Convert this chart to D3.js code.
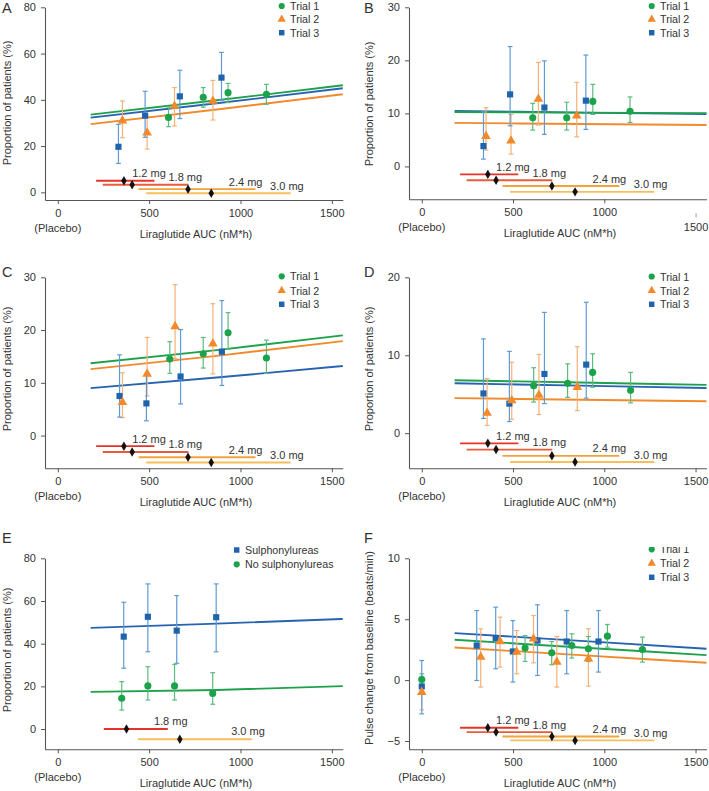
<!DOCTYPE html>
<html><head><meta charset="utf-8">
<script src="https://cdn.jsdelivr.net/npm/d3@7"></script>
<style>
body{margin:0;background:#fff}
text{font-family:"Liberation Sans",Arial,Helvetica,sans-serif;fill:#333}
</style>
</head><body>
<svg id="c" width="709" height="791"></svg>
<script>
// ---------- shared ----------
const xTicks = [0, 500, 1000, 1500];
const fitX = [180, 870, 1560];
const doseLabels = ["1.2 mg", "1.8 mg", "2.4 mg", "3.0 mg"];
const doseLo = [210, 246, 442, 484];
const doseHi = [529, 715, 1082, 1274];
const doseMed = [362, 407, 713, 840];
const doseLabelX = [407, 606, 936, 1162];
const eDoseLabels = ["1.8 mg", "3.0 mg"];
const eDoseLo = [252, 438];
const eDoseHi = [602, 1062];
const eDoseMed = [376, 668];
const eDoseLabelX = [526, 949];
const trialNames = ["Trial 1", "Trial 2", "Trial 3"];
const eNames = ["Sulphonylureas", "No sulphonylureas"];

// each point: [AUC, value, lower, upper]
// ---------- Panel A ----------
const aTrial1 = [[606,32.4,28.4,36.9],[796,41.1,36.8,45.3],[932,43.1,38.8,47.1],[1142,42.4,38.1,46.7]];
const aTrial2 = [[354,31.0,23.6,39.5],[489,25.8,18.7,33.0],[639,37.3,28.7,45.3],[849,39.5,31.3,48.4]];
const aTrial3 = [[332,19.7,12.5,29.4],[478,33.2,23.8,43.7],[668,41.5,31.9,52.8],[896,49.6,39.9,60.5]];
const aFit1 = [33.6, 39.8, 46.3];
const aFit2 = [29.5, 35.8, 42.4];
const aFit3 = [32.3, 38.5, 45.0];
const aDoseY = [5.0, 3.3, 1.4, -0.4];
const aYTicks = [0, 20, 40, 60, 80];

// ---------- Panel B ----------
const bTrial1 = [[608,9.17,6.85,11.9],[794,9.17,6.85,12.1],[937,12.26,9.8,15.47],[1141,10.4,8.3,13.1]];
const bTrial2 = [[352,5.7,3.08,11.06],[489,4.83,2.32,9.8],[639,12.7,7.8,19.6],[849,9.55,5.59,15.85]];
const bTrial3 = [[338,3.83,1.38,10.3],[484,13.58,7.66,22.6],[672,11.1,6.04,19.9],[899,12.4,6.98,21.0]];
const bFit1 = [10.25, 10.15, 10.05];
const bFit2 = [8.2, 8.0, 7.8];
const bFit3 = [10.45, 10.15, 9.85];
const bDoseY = [-1.5, -2.6, -3.7, -4.8];
const bYTicks = [0, 10, 20, 30];

// ---------- Panel C ----------
const cTrial1 = [[613,14.5,11.8,17.8],[796,15.5,12.8,18.6],[932,19.5,16.4,23.3],[1142,14.7,11.8,18.1]];
const cTrial2 = [[354,6.3,3.4,11.9],[489,11.7,7.5,18.6],[642,20.7,14.6,28.6],[849,17.4,11.7,25.0]];
const cTrial3 = [[338,7.5,3.5,15.3],[485,6.1,2.8,11.7],[672,11.2,6.0,20.1],[898,15.9,9.5,25.6]];
const cFit1 = [13.7, 16.2, 19.0];
const cFit2 = [12.6, 15.1, 17.9];
const cFit3 = [9.0, 11.0, 13.2];
const cDoseY = [-2.0, -3.1, -4.1, -5.1];
const cYTicks = [0, 10, 20, 30];

// ---------- Panel D ----------
const dTrial1 = [[613,6.1,4.0,8.4],[799,6.4,4.6,8.9],[936,7.8,5.9,10.2],[1144,5.5,3.9,7.8]];
const dTrial2 = [[358,2.6,1.0,7.0],[493,4.2,1.8,9.1],[642,4.9,2.4,10.1],[852,5.9,2.9,11.1]];
const dTrial3 = [[338,5.1,1.9,12.1],[480,3.8,1.5,10.5],[672,7.6,3.8,15.5],[901,8.8,4.5,16.8]];
const dFit1 = [6.8, 6.5, 6.2];
const dFit2 = [4.5, 4.3, 4.1];
const dFit3 = [6.4, 6.1, 5.8];
const dDoseY = [-1.3, -2.1, -2.9, -3.7];
const dYTicks = [0, 10, 20];

// ---------- Panel E ----------
const eSulph = [[361,43.3,28.5,59.4],[493,52.6,36.2,68.0],[651,46.1,30.8,62.5],[867,52.4,36.2,68.0]];
const eNoSulph = [[350,14.4,8.9,22.2],[493,20.2,13.6,29.2],[639,20.2,13.6,30.3],[848,16.7,11.6,26.4]];
const eFitSulph = [47.4, 49.4, 51.6];
const eFitNo = [17.4, 18.3, 20.1];
const eDoseY = [0, -4.8];
const eYTicks = [0, 20, 40, 60, 80];

// ---------- Panel F ----------
const fTrial1 = [[0,0.05,-0.45,0.52],[566,2.63,1.53,3.66],[712,2.24,1.26,3.17],[822,2.84,1.81,3.80],[913,2.57,1.53,3.58],[1017,3.61,2.71,4.57],[1209,2.51,1.48,3.53]];
const fTrial2 = [[0,-0.99,-2.44,0.3],[323,1.89,-0.57,4.21],[429,3.17,1.07,5.17],[520,2.30,0.52,4.07],[612,3.39,1.42,5.30],[740,1.48,-0.57,3.58],[913,1.75,-0.49,4.21]];
const fTrial3 = [[0,-0.52,-2.77,1.61],[301,2.84,-0.03,5.71],[405,3.45,0.93,5.99],[499,2.35,-0.16,4.89],[634,3.25,0.38,6.18],[794,3.17,0.52,5.71],[968,3.17,0.66,5.71]];
const fFit1 = [3.31, 2.68, 2.05];
const fFit2 = [2.68, 2.05, 1.42];
const fFit3 = [3.86, 3.22, 2.57];
const fDoseY = [-3.91, -4.27, -4.63, -4.95];
const fYTicks = [-5, 0, 5, 10];

// ---------- styling ----------
const COL = {
  green: "#1ba24b", orange: "#f3892a", blue: "#1f63ad",
  greenE: "#5cba7f", orangeE: "#f5b176", blueE: "#5e9bd4",
  greenL: "#1fa14c", orangeL: "#f08a2c", blueL: "#2863b0"
};
const doseColors = ["#e5332a", "#e95b3d", "#f0a23c", "#f6bf5c"];
const SYM = {
  circle: d3.symbol().type(d3.symbolCircle).size(40)(),
  square: d3.symbol().type(d3.symbolSquare).size(38)(),
  triangle: d3.symbol().type(d3.symbolTriangle).size(40)(),
  diamond: d3.symbol().type(d3.symbolDiamond).size(26)()
};

const svg = d3.select("#c");

function drawPanel(p) {
  const x = d3.scaleLinear().domain([-70, 1560]).range(p.xr);
  const y = d3.scaleLinear().domain(p.yd).range(p.yr);
  const g = svg.append("g");

  // axes
  const ya = g.append("g").attr("transform", `translate(${p.xr[0]},0)`)
    .call(d3.axisLeft(y).tickValues(p.yt).tickSize(4).tickPadding(5).tickSizeOuter(0).tickFormat(d3.format("d")));
  const xa = g.append("g").attr("transform", `translate(0,${p.yr[0]})`)
    .call(d3.axisBottom(x).tickValues(xTicks).tickSize(4).tickPadding(5).tickSizeOuter(0).tickFormat(d3.format("d")));
  [ya, xa].forEach(a => {
    a.select(".domain").attr("stroke", "#555").attr("stroke-width", 1.1);
    a.selectAll(".tick line").attr("stroke", "#555");
    a.selectAll(".tick text").attr("font-size", 11).attr("fill", "#333")
      .attr("font-family", '"Liberation Sans",Arial,sans-serif');
  });
  if (p.odd1500) {
    const t = xa.selectAll(".tick").filter(d => d === 1500);
    t.select("line").attr("y1", 14).attr("y2", 18).attr("stroke", "#999");
    t.select("text").attr("y", 24);
  }

  g.append("text").attr("x", x(0)).attr("y", p.yr[0] + 32).attr("text-anchor", "middle")
    .attr("font-size", 11).text("(Placebo)");
  g.append("text").attr("x", p.xr[0] + 151).attr("y", p.yr[0] + 37.5).attr("text-anchor", "middle")
    .attr("font-size", 11).text("Liraglutide AUC (nM*h)");
  g.append("text").attr("transform", `translate(${p.ytx},${p.yty}) rotate(-90)`)
    .attr("text-anchor", "middle").attr("font-size", 11).text(p.ytitle);
  g.append("text").attr("x", p.letter[0]).attr("y", p.letter[1]).attr("font-size", 14.5)
    .attr("fill", "#222").text(p.name);

  // fitted curves
  const line = d3.line().x(d => x(d[0])).y(d => y(d[1])).curve(d3.curveMonotoneX);
  p.fits.forEach(f => {
    g.append("path").datum(d3.zip(fitX, f.v)).attr("d", line)
      .attr("fill", "none").attr("stroke", f.c).attr("stroke-width", 1.9);
  });

  // dose bars
  p.dose.y.forEach((dy, i) => {
    const yy = y(dy);
    g.append("line").attr("x1", x(p.dose.lo[i])).attr("x2", x(p.dose.hi[i]))
      .attr("y1", yy).attr("y2", yy).attr("stroke", p.dose.col[i]).attr("stroke-width", 1.9);
  });
  p.dose.y.forEach((dy, i) => {
    const yy = y(dy);
    g.append("path").attr("d", SYM.diamond).attr("transform", `translate(${x(p.dose.med[i])},${yy})`)
      .attr("fill", "#111");
    g.append("text").attr("x", x(p.dose.lx[i])).attr("y", yy - p.dose.off)
      .attr("font-size", 11).text(p.dose.lab[i]);
  });

  // error bars
  p.series.forEach(s => {
    const eg = g.append("g").attr("stroke", s.ec).attr("stroke-width", 1.2);
    s.d.forEach(d => {
      const cx = x(d[0]);
      eg.append("line").attr("x1", cx).attr("x2", cx).attr("y1", y(d[2])).attr("y2", y(d[3]));
      [d[2], d[3]].forEach(v => eg.append("line").attr("x1", cx - 2.4).attr("x2", cx + 2.4)
        .attr("y1", y(v)).attr("y2", y(v)));
    });
  });
  // markers
  p.markerOrder.forEach(k => {
    const s = p.series[k];
    s.d.forEach(d => {
      g.append("path").attr("d", SYM[s.sym])
        .attr("transform", `translate(${x(d[0])},${y(d[1])})`).attr("fill", s.c);
    });
  });

  // legend
  const lg = g.append("g");
  if (p.legClip) {
    const id = "clip" + p.name;
    svg.append("clipPath").attr("id", id).append("rect")
      .attr("x", 0).attr("y", p.legClip).attr("width", 709).attr("height", 100);
    lg.attr("clip-path", `url(#${id})`);
  }
  p.legend.forEach((L, i) => {
    const yy = p.leg.y[i];
    lg.append("path").attr("d", d3.symbol().type(L.sym === "circle" ? d3.symbolCircle : L.sym === "square" ? d3.symbolSquare : d3.symbolTriangle).size(30)())
      .attr("transform", `translate(${p.leg.mx},${yy})`).attr("fill", L.c);
    lg.append("text").attr("x", p.leg.tx).attr("y", yy + 4).attr("font-size", 10.7).text(L.t);
  });
}

function trialSeries(t1, t2, t3) {
  return [
    {d: t2, c: COL.orange, ec: COL.orangeE, sym: "triangle"},
    {d: t1, c: COL.green, ec: COL.greenE, sym: "circle"},
    {d: t3, c: COL.blue, ec: COL.blueE, sym: "square"}
  ];
}
function trialFits(f1, f2, f3) {
  return [{v: f3, c: COL.blueL}, {v: f2, c: COL.orangeL}, {v: f1, c: COL.greenL}];
}
const trialLegend = [
  {t: trialNames[0], c: COL.green, sym: "circle"},
  {t: trialNames[1], c: COL.orange, sym: "triangle"},
  {t: trialNames[2], c: COL.blue, sym: "square"}
];
const stdDose = ys => ({y: ys, lo: doseLo, hi: doseHi, med: doseMed, lx: doseLabelX, lab: doseLabels, col: doseColors, off: 3.5});
const yTitleP = "Proportion of patients (%)";

drawPanel({name: "A", xr: [45, 342.8], yr: [200, 7.3], yd: [-3.3, 80], yt: aYTicks,
  ytitle: yTitleP, ytx: 10.5, yty: 103, letter: [2, 13],
  fits: trialFits(aFit1, aFit2, aFit3), series: trialSeries(aTrial1, aTrial2, aTrial3), markerOrder: [2, 1, 0],
  dose: stdDose(aDoseY), legend: trialLegend, leg: {mx: 281.7, tx: 290, y: [6, 19.3, 32.7]}});

drawPanel({name: "B", xr: [409, 706.5], yr: [199.3, 7.3], yd: [-6.2, 30], yt: bYTicks, odd1500: true,
  ytitle: yTitleP, ytx: 373, yty: 104, letter: [364, 13],
  fits: trialFits(bFit1, bFit2, bFit3), series: trialSeries(bTrial1, bTrial2, bTrial3), markerOrder: [2, 1, 0],
  dose: stdDose(bDoseY), legend: trialLegend, leg: {mx: 651.7, tx: 660, y: [6, 19.3, 32.7]}});

drawPanel({name: "C", xr: [45, 342.8], yr: [468.3, 277.3], yd: [-6.2, 30], yt: cYTicks,
  ytitle: yTitleP, ytx: 10.5, yty: 369, letter: [2, 277],
  fits: trialFits(cFit1, cFit2, cFit3), series: trialSeries(cTrial1, cTrial2, cTrial3), markerOrder: [2, 1, 0],
  dose: stdDose(cDoseY), legend: trialLegend, leg: {mx: 281.7, tx: 290, y: [276.3, 290.5, 304.3]}});

drawPanel({name: "D", xr: [409, 706.5], yr: [468.3, 277.3], yd: [-4.5, 20], yt: dYTicks,
  ytitle: yTitleP, ytx: 373, yty: 369, letter: [364, 277],
  fits: trialFits(dFit1, dFit2, dFit3), series: trialSeries(dTrial1, dTrial2, dTrial3), markerOrder: [2, 1, 0],
  dose: stdDose(dDoseY), legend: trialLegend, leg: {mx: 651.7, tx: 660, y: [276.5, 290.5, 304.3]}});

drawPanel({name: "E", xr: [45, 342.8], yr: [749.3, 558.3], yd: [-9.5, 80], yt: eYTicks,
  ytitle: yTitleP, ytx: 10.5, yty: 650, letter: [2, 543],
  fits: [{v: eFitSulph, c: COL.blueL}, {v: eFitNo, c: COL.greenL}],
  series: [{d: eSulph, c: COL.blue, ec: COL.blueE, sym: "square"}, {d: eNoSulph, c: COL.green, ec: COL.greenE, sym: "circle"}],
  markerOrder: [0, 1],
  dose: {y: eDoseY, lo: eDoseLo, hi: eDoseHi, med: eDoseMed, lx: eDoseLabelX, lab: eDoseLabels, col: [doseColors[0], doseColors[3]], off: 4.5},
  legend: [{t: eNames[0], c: COL.blue, sym: "square"}, {t: eNames[1], c: COL.green, sym: "circle"}],
  leg: {mx: 236.7, tx: 245, y: [550, 564.3]}});

drawPanel({name: "F", xr: [409, 706.5], yr: [749.3, 558.3], yd: [-5.68, 10], yt: fYTicks,
  ytitle: "Pulse change from baseline (beats/min)", ytx: 373, yty: 648, letter: [364, 543],
  fits: trialFits(fFit1, fFit2, fFit3), series: trialSeries(fTrial1, fTrial2, fTrial3), markerOrder: [2, 1, 0],
  dose: stdDose(fDoseY), legend: trialLegend, leg: {mx: 651.7, tx: 660, y: [549.3, 563.3, 577.3]}, legClip: 547});
</script>
</body></html>
